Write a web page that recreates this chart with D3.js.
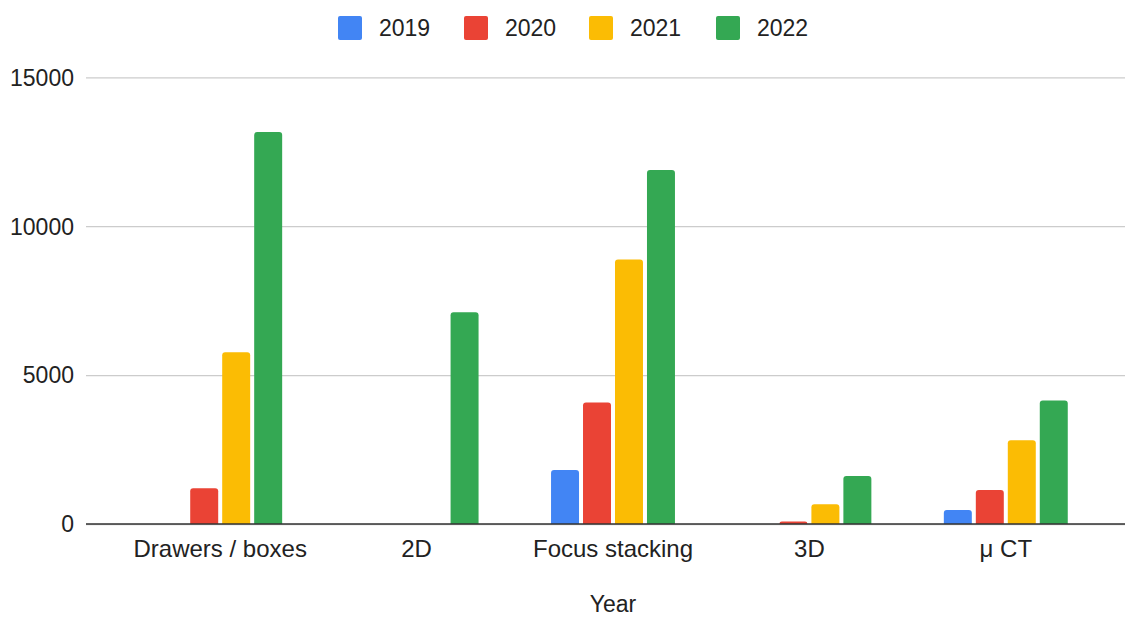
<!DOCTYPE html>
<html><head><meta charset="utf-8">
<script src="https://cdn.jsdelivr.net/npm/d3@7"></script>
<style>body{margin:0;background:#fff}svg{display:block;font-family:Arial,"Liberation Sans",sans-serif}</style>
</head><body>
<svg id="c" width="1126" height="617"></svg>
<script>
const categories = ["Drawers / boxes", "2D", "Focus stacking", "3D", "μ CT"];
const seriesNames = ["2019", "2020", "2021", "2022"];
const colors = ["#4285F4", "#EA4335", "#FBBC04", "#34A853"];
const v2019 = [0, 0, 1810, 0, 470];
const v2020 = [1200, 0, 4080, 80, 1140];
const v2021 = [5770, 0, 8880, 660, 2810];
const v2022 = [13160, 7110, 11890, 1610, 4150];
const yTicks = [0, 5000, 10000, 15000];
const xTitle = "Year";

(function () {
const values = [v2019, v2020, v2021, v2022];
const svg = d3.select("#c");
const pLeft = 86, pRight = 1125, pTop = 77.3, pBottom = 524;

const y = d3.scaleLinear().domain([0, 15000]).range([pBottom, pTop]);
const x = d3.scaleBand().domain(categories).range([122, 1104]).paddingInner(0.369).paddingOuter(0.1845);
const xi = d3.scaleBand().domain(seriesNames).range([0, x.bandwidth()]).paddingInner(0.125);

// gridlines + y labels
const yAxis = d3.axisLeft(y).tickValues(yTicks).tickSize(-(pRight - pLeft)).tickPadding(12).tickFormat(d3.format("d"));
const ga = svg.append("g").attr("transform", `translate(${pLeft},0)`).call(yAxis);
ga.select(".domain").remove();
ga.selectAll(".tick line").attr("stroke", "#cccccc").attr("stroke-width", 1.3);
ga.selectAll(".tick text").attr("fill", "#222").attr("font-size", 23).attr("dy", "0.34em")
  .attr("font-family", "Arial, 'Liberation Sans', sans-serif");

// bars
function barPath(x0, w, yTop, yBase, r) {
  r = Math.min(r, (yBase - yTop), w / 2);
  return `M${x0},${yBase}V${yTop + r}Q${x0},${yTop} ${x0 + r},${yTop}H${x0 + w - r}Q${x0 + w},${yTop} ${x0 + w},${yTop + r}V${yBase}Z`;
}
const data = [];
categories.forEach((c, i) => seriesNames.forEach((s, j) => {
  if (values[j][i] > 0) data.push({ c, s, j, v: values[j][i] });
}));
svg.append("g").selectAll("path").data(data).join("path")
  .attr("d", d => barPath(x(d.c) + xi(d.s), xi.bandwidth(), y(d.v), y(0), 3))
  .attr("fill", d => colors[d.j]);

// baseline
svg.append("line").attr("x1", pLeft).attr("x2", pRight).attr("y1", y(0)).attr("y2", y(0))
  .attr("stroke", "#333").attr("stroke-width", 1.5);

// x labels
const xAxis = d3.axisBottom(x).tickSize(0).tickPadding(16);
const gx = svg.append("g").attr("transform", `translate(0,${pBottom})`).call(xAxis);
gx.select(".domain").remove();
gx.selectAll(".tick text").attr("fill", "#222").attr("font-size", 24).attr("font-family", "Arial, 'Liberation Sans', sans-serif");

svg.append("text").attr("x", 613).attr("y", 612).attr("text-anchor", "middle")
  .attr("fill", "#222").attr("font-size", 23).text(xTitle);

// legend
const lx = [338, 464, 589, 716];
const lg = svg.append("g").selectAll("g").data(seriesNames).join("g")
  .attr("transform", (d, i) => `translate(${lx[i]},16)`);
lg.append("rect").attr("width", 24).attr("height", 24).attr("rx", 2).attr("fill", (d, i) => colors[i]);
lg.append("text").attr("x", 41).attr("y", 12).attr("dy", "0.35em").attr("fill", "#222")
  .attr("font-size", 23).text(d => d);
})();
</script>
</body></html>
